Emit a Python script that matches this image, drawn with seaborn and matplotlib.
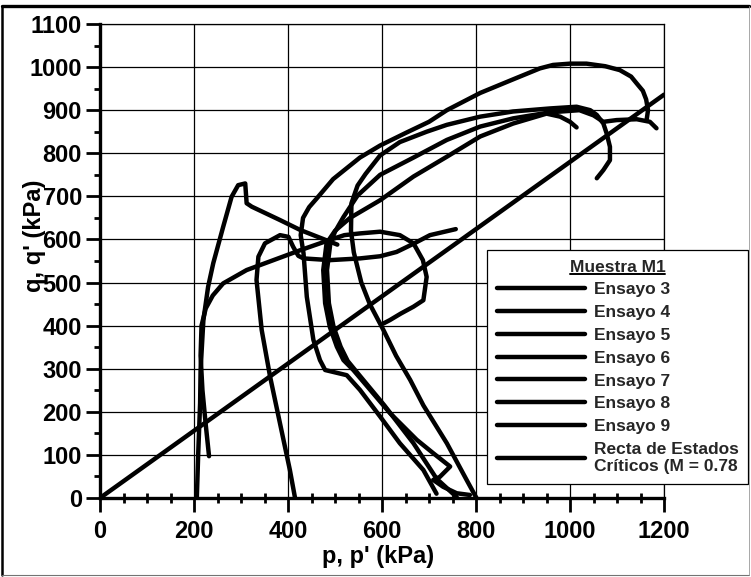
import matplotlib
matplotlib.use("Agg")
import matplotlib.pyplot as plt
from matplotlib.lines import Line2D
from matplotlib.ticker import MultipleLocator
import seaborn as sns

# Trayectorias de tensiones (p, q) en kPa, Muestra M1
ensayo_3_p = [206, 209, 213, 214, 220, 230, 241, 262, 280, 294, 309, 312, 323, 383, 426, 489, 505]
ensayo_3_q = [0, 104, 220, 297, 413, 490, 545, 629, 699, 726, 730, 684, 676, 645, 622, 595, 588]

ensayo_4_p = [232, 225, 218, 214, 216, 225, 240, 262, 312, 369, 426, 489, 520, 553, 596, 638, 667, 687, 695, 688, 667, 640, 617, 603]
ensayo_4_q = [97, 170, 250, 330, 400, 440, 470, 498, 529, 552, 575, 599, 610, 614, 618, 610, 591, 552, 513, 459, 444, 428, 413, 405]

ensayo_5_p = [415, 404, 383, 362, 344, 333, 337, 351, 383, 401, 411, 422, 433, 489, 553, 596, 631, 667, 702, 757]
ensayo_5_q = [0, 65, 173, 281, 390, 506, 560, 591, 610, 606, 583, 562, 556, 552, 556, 561, 571, 590, 610, 624]

ensayo_6_p = [716, 688, 638, 596, 553, 525, 479, 468, 454, 440, 433, 427, 432, 445, 461, 496, 553, 596, 652, 700,
              738, 809, 880, 936, 964, 1000, 1035, 1075, 1106, 1130, 1142, 1155, 1162, 1166, 1163]
ensayo_6_q = [10, 65, 127, 189, 251, 285, 297, 320, 367, 467, 568, 610, 650, 675, 695, 740, 790, 818, 848, 873,
              900, 940, 972, 997, 1005, 1008, 1008, 1002, 993, 978, 962, 945, 925, 900, 877]

ensayo_7_p = [759, 716, 667, 605, 548, 527, 512, 497, 487, 483, 490, 500, 518, 548, 596, 667, 738, 809, 879, 957,
              1020, 1050, 1071, 1099, 1142, 1170, 1184]
ensayo_7_q = [2, 45, 127, 215, 290, 318, 351, 397, 452, 529, 590, 618, 652, 702, 750, 790, 831, 862, 881, 895,
              900, 888, 873, 877, 879, 873, 858]

ensayo_8_p = [787, 759, 730, 709, 723, 745, 709, 674, 617, 539, 518, 504, 489, 479, 475, 482, 500, 532, 596, 667,
              738, 809, 879, 950, 979, 1000, 1014]
ensayo_8_q = [7, 11, 26, 42, 49, 73, 104, 135, 197, 297, 320, 351, 397, 452, 529, 591, 620, 650, 691, 746,
              792, 839, 869, 892, 885, 873, 860]

ensayo_9_p = [801, 780, 738, 688, 660, 630, 603, 574, 556, 540, 534, 535, 548, 565, 596, 638, 695, 738, 809, 879,
              957, 1014, 1043, 1057, 1071, 1078, 1085, 1085, 1071, 1057]
ensayo_9_q = [0, 42, 127, 215, 274, 330, 390, 450, 500, 570, 620, 684, 725, 752, 795, 826, 850, 866, 885, 897,
              904, 908, 900, 889, 869, 846, 815, 784, 761, 742]

# Recta de estados criticos q = M p
M_csl = 0.78
csl_p = [0, 1200]
csl_q = [M_csl * v for v in csl_p]

labels = ["Ensayo 3", "Ensayo 4", "Ensayo 5", "Ensayo 6", "Ensayo 7", "Ensayo 8", "Ensayo 9"]
paths = [
    (ensayo_3_p, ensayo_3_q),
    (ensayo_4_p, ensayo_4_q),
    (ensayo_5_p, ensayo_5_q),
    (ensayo_6_p, ensayo_6_q),
    (ensayo_7_p, ensayo_7_q),
    (ensayo_8_p, ensayo_8_q),
    (ensayo_9_p, ensayo_9_q),
]
csl_label = "Recta de Estados\nCríticos (M = 0.78"

sns.set_theme(style="white")
plt.rcParams["font.family"] = ["Liberation Sans", "DejaVu Sans"]
plt.rcParams["font.weight"] = "bold"

W, H = 751, 577
fig = plt.figure(figsize=(W / 100, H / 100), dpi=100)
fig.patch.set_facecolor("white")
ax = fig.add_axes([100 / W, 1 - 498 / H, 564 / W, 474 / H])
ax.set_facecolor("white")

line_kw = dict(color="black", lw=3.2, solid_capstyle="round", solid_joinstyle="round")
for name, (p, q) in zip(labels, paths):
    sns.lineplot(x=p, y=q, sort=False, estimator=None, label=name, ax=ax, **line_kw)
sns.lineplot(x=csl_p, y=csl_q, sort=False, estimator=None, label=csl_label, ax=ax, **line_kw)

ax.set_xlim(0, 1200)
ax.set_ylim(0, 1100)
ax.xaxis.set_major_locator(MultipleLocator(200))
ax.xaxis.set_minor_locator(MultipleLocator(50))
ax.yaxis.set_major_locator(MultipleLocator(100))
ax.yaxis.set_minor_locator(MultipleLocator(50))
ax.grid(True, which="major", color="black", lw=0.9)
ax.set_axisbelow(True)

for side in ("left", "bottom"):
    ax.spines[side].set_linewidth(2.4)
    ax.spines[side].set_color("black")
for side in ("top", "right"):
    ax.spines[side].set_linewidth(0.9)
    ax.spines[side].set_color("black")

ax.tick_params(axis="both", which="major", direction="out", length=10, width=2,
               color="black", labelsize=17, labelcolor="black")
ax.tick_params(axis="x", which="major", pad=6)
ax.tick_params(axis="y", which="major", pad=3)
ax.tick_params(axis="x", which="minor", direction="inout", length=7, width=2, color="black")
ax.tick_params(axis="y", which="minor", direction="out", length=4, width=2, color="black")
ax.tick_params(bottom=True, left=True, top=False, right=False, which="both")

ax.set_xlabel("p, p' (kPa)", fontsize=17, fontweight="bold", color="black")
ax.set_ylabel("q, q' (kPa)", fontsize=17, fontweight="bold", color="black")
ax.xaxis.set_label_coords(0.493, -0.100)
ax.yaxis.set_label_coords(-0.095, 0.553)

leg = ax.legend(loc="upper left", bbox_to_anchor=(487 / W, 1 - 250 / H),
                bbox_transform=fig.transFigure, frameon=True, fancybox=False,
                edgecolor="black", framealpha=1, fontsize=12.5,
                title="Muestra M1",
                title_fontproperties={"size": 12.5, "weight": "bold"},
                handlelength=5.1, handletextpad=0.5, labelspacing=0.44,
                borderpad=0.55, borderaxespad=0)
leg.get_frame().set_linewidth(0.9)
for t in leg.get_texts():
    t.set_fontweight("bold")

# subrayado del titulo de la leyenda
fig.canvas.draw()
bb = leg.get_title().get_window_extent()
inv = fig.transFigure.inverted()
(x0, y0), (x1, _) = inv.transform([(bb.x0, bb.y0 + 1), (bb.x1, bb.y0 + 1)])
fig.add_artist(Line2D([x0, x1], [y0, y0], transform=fig.transFigure, color="black", lw=1.4))

# marco exterior de la figura
fig.add_artist(Line2D([2 / W, 749 / W], [1 - 6 / H, 1 - 6 / H], transform=fig.transFigure, color="black", lw=2.4))
fig.add_artist(Line2D([2 / W, 2 / W], [1 - 6 / H, 1 - 575 / H], transform=fig.transFigure, color="black", lw=1.8))
fig.add_artist(Line2D([2 / W, 749 / W], [1 - 575 / H, 1 - 575 / H], transform=fig.transFigure, color="0.45", lw=0.8))
fig.add_artist(Line2D([749 / W, 749 / W], [1 - 6 / H, 1 - 575 / H], transform=fig.transFigure, color="0.6", lw=0.6))

fig.savefig("out.png", dpi=100)
